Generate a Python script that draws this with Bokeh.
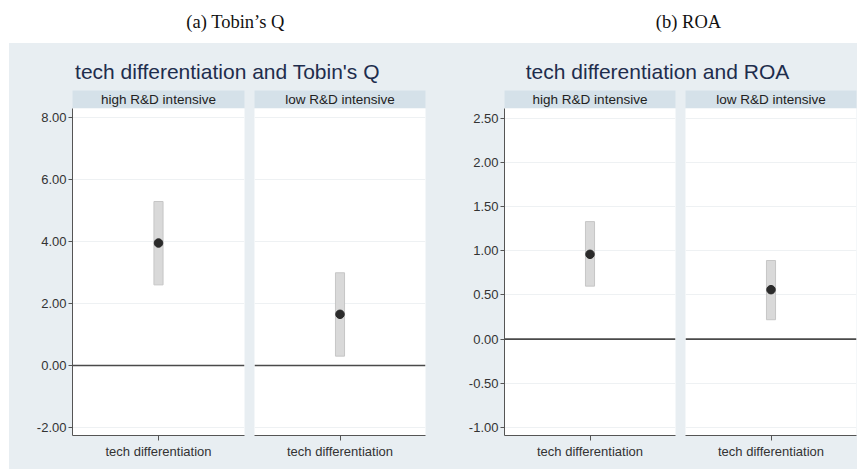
from bokeh.plotting import figure
from bokeh.layouts import column, row, Spacer
from bokeh.models import (Range1d, FactorRange, Label, Span, FixedTicker,
                          PrintfTickFormatter, ColumnDataSource)
from bokeh.embed import file_html
from bokeh.resources import INLINE

# Coefficient estimates with 95% confidence intervals, by subsample
facets = ["high R&D intensive", "low R&D intensive"]
regressor = "tech differentiation"

tobinq_coef = [3.95, 1.65]
tobinq_lo = [2.60, 0.30]
tobinq_hi = [5.29, 2.99]

roa_coef = [0.96, 0.56]
roa_lo = [0.60, 0.22]
roa_hi = [1.33, 0.89]

tobinq_ticks = [-2, 0, 2, 4, 6, 8]
roa_ticks = [-1.0, -0.5, 0.0, 0.5, 1.0, 1.5, 2.0, 2.5]

captions = ["(a) Tobin\u2019s Q", "(b) ROA"]
titles = ["tech differentiation and Tobin's Q", "tech differentiation and ROA"]

BG = "#e8eef2"
STRIP = "#d5e1e9"
SANS = "Liberation Sans"
SERIF = "Liberation Serif"
AXIS = "#555555"
BG_STYLE = {"background-color": BG}


def blank(width, height, fill, border=None):
    p = figure(width=width, height=height, x_axis_type=None, y_axis_type=None,
               x_range=Range1d(0, 1), y_range=Range1d(0, 1),
               output_backend="svg", toolbar_location=None,
               min_border=0)
    p.background_fill_color = fill
    p.border_fill_color = border or fill
    p.outline_line_color = None
    p.grid.visible = False
    return p


def caption_bar(width, height):
    p = blank(width, height, "white")
    p.x_range = Range1d(0, width)
    p.y_range = Range1d(0, height)
    for text, xc in zip(captions, [235, 688]):
        p.add_layout(Label(x=xc, y=22, text=text, text_align="center",
                           text_baseline="alphabetic", text_font=SERIF,
                           text_font_size="18.5px", text_color="#111111"))
    return p


def title_bar(width, text, xc):
    p = blank(width, 47, BG)
    p.x_range = Range1d(0, width)
    p.y_range = Range1d(0, 47)
    p.add_layout(Label(x=xc, y=19, text=text, text_align="center",
                       text_baseline="alphabetic", text_font=SANS,
                       text_font_size="21px", text_color="#1e2d4d"))
    return p


def strip(width, left, right, text):
    p = figure(width=width, height=18, x_axis_type=None, y_axis_type=None,
               x_range=Range1d(0, 1), y_range=Range1d(0, 1),
               output_backend="svg", toolbar_location=None,
               min_border_left=left, min_border_right=right,
               min_border_top=0, min_border_bottom=0)
    p.background_fill_color = STRIP
    p.border_fill_color = BG
    p.outline_line_color = None
    p.grid.visible = False
    p.add_layout(Label(x=0.5, y=0.5, text=text, text_align="center",
                       text_baseline="middle", text_font=SANS,
                       text_font_size="13.5px", text_color="#222222"))
    return p


def panel(width, left, right, lo_hi, ticks, coef, lo, hi, show_y):
    p = figure(width=width, height=361,
               x_range=FactorRange(factors=[regressor]),
               y_range=Range1d(*lo_hi),
               y_axis_location="left" if show_y else None,
               output_backend="svg", toolbar_location=None,
               min_border_left=left, min_border_right=right,
               min_border_top=0, min_border_bottom=34)
    p.background_fill_color = "white"
    p.border_fill_color = BG
    p.outline_line_color = None
    p.xgrid.visible = False
    p.ygrid.ticker = FixedTicker(ticks=ticks)
    p.ygrid.grid_line_color = "#eef1f3"
    p.ygrid.grid_line_width = 1

    src = ColumnDataSource(dict(x=[regressor], coef=[coef], lo=[lo], hi=[hi]))
    p.vbar(x="x", top="hi", bottom="lo", width=0.053, source=src,
           fill_color="#d9d9d9", line_color="#c6c6c6", line_width=1)
    p.add_layout(Span(location=0, dimension="width", line_color="#4a4a4a",
                      line_width=1.6))
    p.scatter(x="x", y="coef", source=src, size=8.5, marker="circle",
              fill_color="#2b2b2b", line_color="#2b2b2b")

    xa = p.xaxis[0]
    xa.axis_line_color = AXIS
    xa.major_tick_line_color = AXIS
    xa.major_tick_out = 5
    xa.major_tick_in = 0
    xa.major_label_standoff = 3
    xa.major_label_text_font = SANS
    xa.major_label_text_font_size = "13px"
    xa.major_label_text_color = "#333333"

    if show_y:
        ya = p.yaxis[0]
        ya.ticker = FixedTicker(ticks=ticks)
        ya.formatter = PrintfTickFormatter(format="%.2f")
        ya.axis_line_color = AXIS
        ya.major_tick_line_color = AXIS
        ya.minor_tick_line_color = None
        ya.major_tick_out = 4
        ya.major_tick_in = 0
        ya.major_label_standoff = 2
        ya.major_label_text_font = SANS
        ya.major_label_text_font_size = "13px"
        ya.major_label_text_color = "#333333"
    return p


def facet_chart(width, title, title_x, widths, borders, y_range, ticks,
                coef, lo, hi):
    cols = []
    for i in range(2):
        w = widths[i]
        left, right = borders[i]
        cols.append(column(
            strip(w, left, right, facets[i]),
            panel(w, left, right, y_range, ticks, coef[i], lo[i], hi[i], i == 0),
            styles=BG_STYLE,
        ))
    return column(title_bar(sum(widths), title, title_x),
                  row(*cols, styles=BG_STYLE),
                  styles=BG_STYLE)


# (a) Tobin's Q
chart_a = facet_chart(423, titles[0], 218, [240, 183], [(63, 5), (5, 7)],
                      (-2.26, 8.29), tobinq_ticks,
                      tobinq_coef, tobinq_lo, tobinq_hi)

# (b) ROA
chart_b = facet_chart(425, titles[1], 225, [248, 177], [(72, 5), (5, 1)],
                      (-1.09, 2.61), roa_ticks,
                      roa_coef, roa_lo, roa_hi)

page = column(
    caption_bar(864, 43),
    row(Spacer(width=9, height=426),
        row(chart_a, chart_b, styles=BG_STYLE)),
)

open("out.html", "w").write(file_html(page, INLINE))
